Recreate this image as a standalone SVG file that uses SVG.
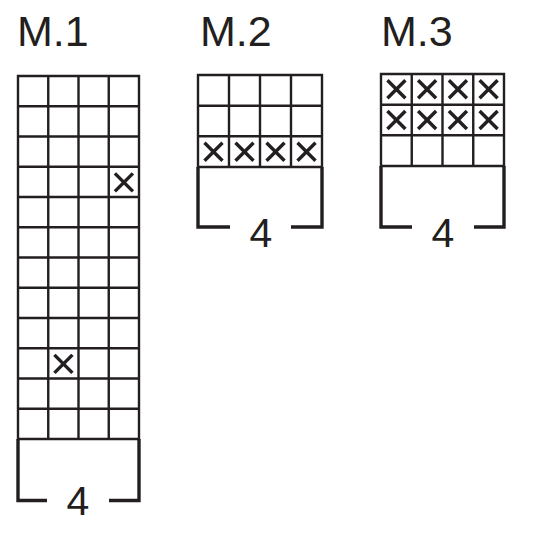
<svg xmlns="http://www.w3.org/2000/svg" width="550" height="533" viewBox="0 0 550 533">
<defs>
<style>
.bg{fill:#fff}
.grid{fill:none;stroke:#231f20;stroke-width:2.4}
.br{fill:none;stroke:#231f20;stroke-width:3.4}
.x{stroke:#231f20;stroke-width:3.4;stroke-linecap:butt}
.lbl{font-family:"Liberation Sans",Arial,sans-serif;font-size:43px;fill:#231f20}
.num{font-family:"Liberation Sans",Arial,sans-serif;font-size:41px;fill:#231f20;text-anchor:middle}
</style>
<g id="xm"><line class="x" x1="-9" y1="-9" x2="9" y2="9"/><line class="x" x1="-9" y1="9" x2="9" y2="-9"/></g>
</defs>
<rect class="bg" width="550" height="533"/>
<g id="m1">
<text class="lbl" x="17" y="46">M.1</text>
<path class="grid" d="M18,76H139V439H18Z M48.25,76V439 M78.5,76V439 M108.75,76V439 M18,106.25H139 M18,136.5H139 M18,166.75H139 M18,197H139 M18,227.25H139 M18,257.5H139 M18,287.75H139 M18,318H139 M18,348.25H139 M18,378.5H139 M18,408.75H139"/>
<use href="#xm" x="123.9" y="182.4"/>
<use href="#xm" x="63.4" y="363.9"/>
<path class="br" d="M18,439V500.5H47 M109,500.5H139V439"/>
<text class="num" x="78" y="515">4</text>
</g>
<g id="m2">
<text class="lbl" x="200" y="46">M.2</text>
<path class="grid" d="M198,75H322V167H198Z M229,75V167 M260,75V167 M291,75V167 M198,105.7H322 M198,136.3H322"/>
<use href="#xm" x="213.5" y="151.7"/>
<use href="#xm" x="244.5" y="151.7"/>
<use href="#xm" x="275.5" y="151.7"/>
<use href="#xm" x="306.5" y="151.7"/>
<path class="br" d="M198,167V227H230 M291,227H322V167"/>
<text class="num" x="261" y="247">4</text>
</g>
<g id="m3">
<text class="lbl" x="381" y="46">M.3</text>
<path class="grid" d="M381,74H504V166H381Z M411.75,74V166 M442.5,74V166 M473.25,74V166 M381,104.7H504 M381,135.3H504"/>
<use href="#xm" x="396.4" y="89.3"/>
<use href="#xm" x="427.1" y="89.3"/>
<use href="#xm" x="457.9" y="89.3"/>
<use href="#xm" x="488.6" y="89.3"/>
<use href="#xm" x="396.4" y="120"/>
<use href="#xm" x="427.1" y="120"/>
<use href="#xm" x="457.9" y="120"/>
<use href="#xm" x="488.6" y="120"/>
<path class="br" d="M381,166V227H412 M474,227H504V166"/>
<text class="num" x="443" y="247">4</text>
</g>
<g id="connectors"/>
</svg>
